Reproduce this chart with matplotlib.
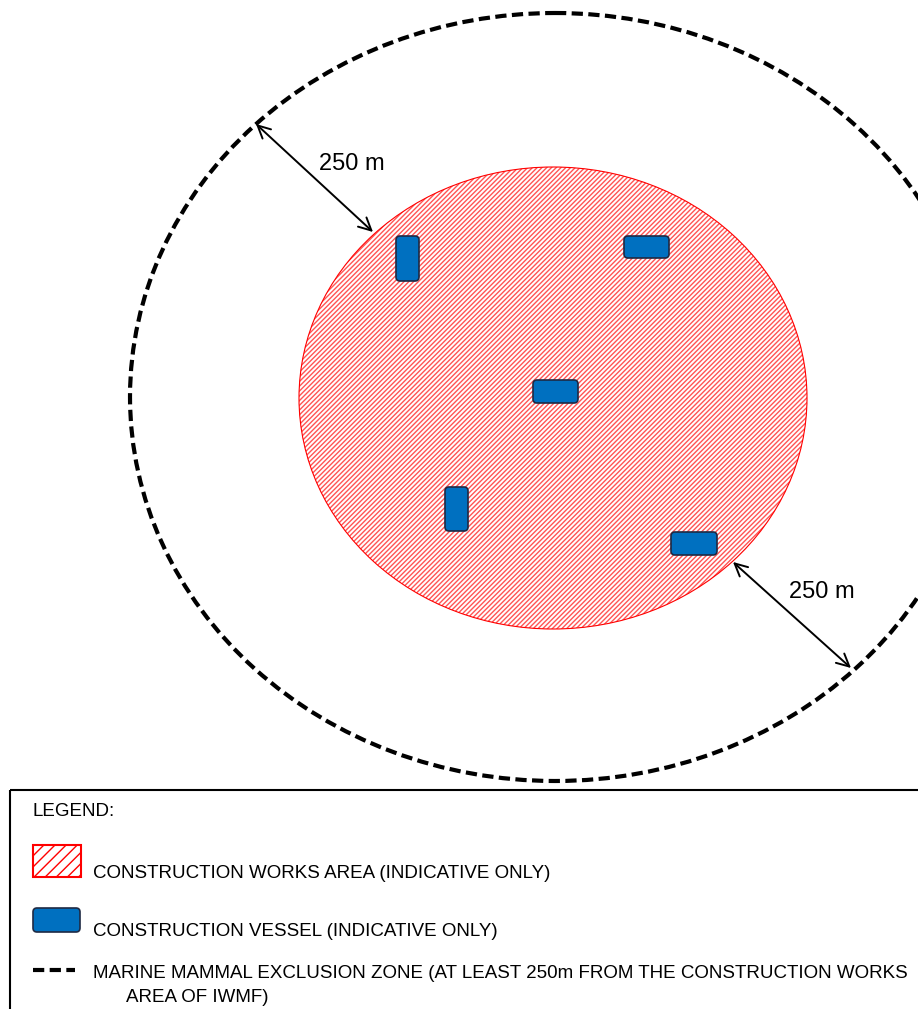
import matplotlib
matplotlib.use('Agg')
import matplotlib.pyplot as plt
from matplotlib.patches import Ellipse, FancyBboxPatch, Rectangle

plt.rcParams['font.family'] = ['Liberation Sans', 'DejaVu Sans']

# zones (centre x, centre y, width, height) in drawing units
works_area = (553, 398, 508, 462)
exclusion_zone = (555, 397, 850, 768)

# construction vessels
vessel_x = [396, 624, 533, 445, 671]
vessel_y = [236, 236, 380, 487, 532]
vessel_w = [23, 45, 45, 23, 46]
vessel_h = [45, 22, 23, 44, 23]

# 250 m dimension arrows
arrow_start = [(256, 124), (733, 562)]
arrow_end = [(373, 232), (851, 668)]
arrow_label = ['250 m', '250 m']
label_pos = [(352, 164), (822, 592)]

legend_items = ['CONSTRUCTION WORKS AREA (INDICATIVE ONLY)',
                'CONSTRUCTION VESSEL (INDICATIVE ONLY)',
                'MARINE MAMMAL EXCLUSION ZONE (AT LEAST 250m FROM THE CONSTRUCTION WORKS',
                'AREA OF IWMF)']

red = '#FF0000'
hatch_red = '#FF5555'
blue = '#0070C0'
edge = '#1F2A44'

fig = plt.figure(figsize=(9.18, 10.09), dpi=100)
ax = fig.add_axes([0, 0, 1, 1])
ax.set_xlim(0, 918)
ax.set_ylim(1009, 0)
ax.axis('off')

# works area (hatched red circle)
plt.rcParams['hatch.linewidth'] = 1.0
cx, cy, w, h = works_area
ax.add_patch(Ellipse((cx, cy), w, h, facecolor='white', edgecolor=hatch_red,
                     hatch='///////', lw=0, zorder=1))
ax.add_patch(Ellipse((cx, cy), w, h, fill=False, edgecolor=red, lw=0.8, zorder=1))

# exclusion zone (dashed)
cx, cy, w, h = exclusion_zone
ax.add_patch(Ellipse((cx, cy), w, h, fill=False, edgecolor='black', lw=3,
                     linestyle=(0, (2.7, 1.3)), zorder=2))

# vessels
for x, y, vw, vh in zip(vessel_x, vessel_y, vessel_w, vessel_h):
    ax.add_patch(FancyBboxPatch((x, y), vw, vh, boxstyle='round,pad=0,rounding_size=4',
                                facecolor=blue, edgecolor=edge, lw=1.2, zorder=3))

# dimension arrows
for s, e, lab, p in zip(arrow_start, arrow_end, arrow_label, label_pos):
    ax.annotate('', xy=e, xytext=s,
                arrowprops=dict(arrowstyle='<->,head_length=0.9,head_width=0.45',
                                color='black', lw=1.4, shrinkA=0, shrinkB=0), zorder=4)
    ax.text(p[0], p[1], lab, fontsize=17, ha='center', va='center', zorder=4)

# legend box
ax.add_patch(Rectangle((10, 790), 950, 260, fill=False, edgecolor='black', lw=1.5, zorder=5))
ax.text(33, 812, 'LEGEND:', fontsize=13.5, va='center')

ax.add_patch(Rectangle((33, 845), 48, 32, facecolor='white', edgecolor=red,
                       hatch='///', lw=1.5))
ax.text(93, 873, legend_items[0], fontsize=13.5, va='center')

ax.add_patch(FancyBboxPatch((33, 908), 47, 24, boxstyle='round,pad=0,rounding_size=4',
                            facecolor=blue, edgecolor=edge, lw=1.2))
ax.text(93, 931, legend_items[1], fontsize=13.5, va='center')

ax.plot([33, 75], [970, 970], color='black', lw=3, linestyle=(0, (2.7, 1.3)))
ax.text(93, 973, legend_items[2], fontsize=13.5, va='center')
ax.text(126, 997, legend_items[3], fontsize=13.5, va='center')

fig.savefig('out.png', dpi=100)
